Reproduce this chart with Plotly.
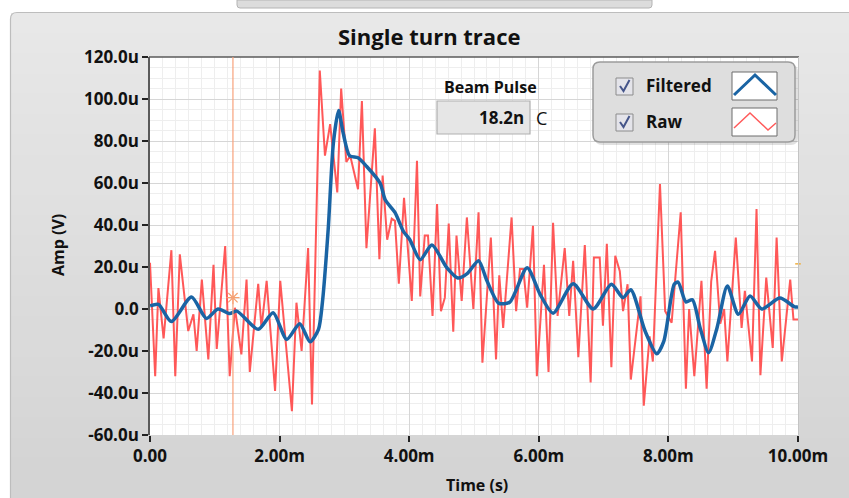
"""
plot.py
------------------------------------
Single turn trace (LabVIEW style waveform graph)
"""

import plotly.graph_objects as go

# ---- data (time in ms, amplitude in uV) ----
raw_t = [0.00, 0.08, 0.13, 0.21, 0.33, 0.39, 0.46, 0.59, 0.67, 0.72, 0.80, 0.90,
         0.98, 1.03, 1.16, 1.23, 1.31, 1.41, 1.49, 1.54, 1.67, 1.72, 1.80, 1.93,
         2.01, 2.19, 2.26, 2.34, 2.44, 2.50, 2.62, 2.70, 2.78, 2.89, 2.95, 3.03,
         3.09, 3.21, 3.27, 3.34, 3.47, 3.54, 3.59, 3.66, 3.73, 3.78, 3.84, 3.92,
         4.04, 4.12, 4.17, 4.24, 4.29, 4.36, 4.43, 4.49, 4.55, 4.61, 4.68, 4.73,
         4.81, 4.89, 4.99, 5.07, 5.13, 5.26, 5.34, 5.39, 5.45, 5.58, 5.65, 5.71,
         5.76, 5.82, 5.91, 5.97, 6.08, 6.15, 6.22, 6.29, 6.40, 6.47, 6.53, 6.61,
         6.71, 6.80, 6.85, 6.94, 6.99, 7.05, 7.12, 7.18, 7.25, 7.30, 7.37, 7.42,
         7.57, 7.62, 7.71, 7.76, 7.87, 7.95, 8.05, 8.19, 8.27, 8.32, 8.40, 8.51,
         8.59, 8.66, 8.72, 8.80, 8.86, 8.91, 9.04, 9.13, 9.18, 9.29, 9.36, 9.42,
         9.51, 9.61, 9.67, 9.75, 9.88, 9.93, 10.00]
raw_v = [22, -32, 10, -14, 28, -32, 26, -10.5, -2.5, -20, 14, -24,
         21, -19, 30, -32, 0.6, -21.6, 14, -30, 12, -9, 13.4, -39,
         13.4, -48.7, 3, -20, 29, -45.5, 113.6, 73, 88, 55.5, 105, 70,
         73, 57, 99, 29, 86, 23.7, 63.5, 33, 43, 42, 12, 53,
         3.8, 70.6, 6, 35, 35, -3.3, 50, -1, 5.4, 40.7, -10.8, 35,
         3.8, 43.6, 0, 46, -25.6, 34, -24, 16, -9, 43.6, -1, 19,
         19, 0.6, 39.6, -32, 21, -30, 41, -3.3, 29, -3.3, 23, -23,
         30.5, -35, 24.5, 24.5, -8, 31, -27.7, 25.3, 18, -1, 11.8, -33.6,
         6, -46, -13, -25, 59.5, -1, -6.5, 46, -38, 0, -32, 13.4,
         -38, 13, 27.7, -7, 0, -25, 34, -9, 8.6, -25, 47.6, -31.5,
         15, -18.5, 34, -25, 14, -5, -5]

filt_t = [0.00, 0.13, 0.33, 0.64, 0.87, 1.05, 1.23, 1.34, 1.67, 1.90, 2.11, 2.31,
          2.47, 2.60, 2.66, 2.75, 2.83, 2.91, 2.98, 3.08, 3.21, 3.34, 3.55, 3.63,
          3.78, 3.91, 4.01, 4.17, 4.35, 4.58, 4.75, 4.90, 5.07, 5.20, 5.38, 5.55,
          5.82, 6.02, 6.22, 6.53, 6.84, 7.12, 7.30, 7.42, 7.64, 7.82, 7.93, 8.09,
          8.15, 8.27, 8.37, 8.49, 8.62, 8.75, 8.91, 9.08, 9.26, 9.44, 9.72, 9.95,
          10.00]
filt_v = [1.5, 2.2, -6, 5.7, -4.5, 0, -2.2, -1, -9.7, -1.8, -14.5, -7,
          -15.6, -9.7, 3, 38, 79, 94.5, 84, 73, 72, 68, 60, 52,
          46, 37, 33, 23.5, 30.5, 19.7, 14.8, 17, 23, 13.4, 2.8, 3.2,
          19.7, 7, -2, 12, 0, 11.8, 5.4, 9.2, -10.5, -21.3, -15.3, 11.8,
          12.8, 3.4, 4.4, -9, -20.8, -9, 11, -2.5, 6.2, 0, 5.2, 1,
          1]

cursor_t = [1.28]
cursor_v = [5.4]
edge_t = [10.0]
edge_v = [21.5]

x_ticks = [0, 2, 4, 6, 8, 10]
x_labels = ["0.00", "2.00m", "4.00m", "6.00m", "8.00m", "10.00m"]
y_ticks = [-60, -40, -20, 0, 20, 40, 60, 80, 100, 120]
y_labels = ["-60.0u", "-40.0u", "-20.0u", "0.0", "20.0u", "40.0u",
            "60.0u", "80.0u", "100.0u", "120.0u"]

beam_pulse = "18.2n"

# ---- page geometry (pixels) ----
W, H = 849, 498
FONT = "Open Sans"


def X(px):
    return px / W


def Y(py):
    return 1 - py / H


def rounded(x0, y0, x1, y1, r):
    """SVG path for a rounded rectangle in paper coords (pixel input)."""
    a, b, c, d = X(x0), Y(y0), X(x1), Y(y1)
    rx, ry = r / W, r / H
    return (f"M {a + rx} {b} L {c - rx} {b} Q {c} {b} {c} {b - ry} "
            f"L {c} {d + ry} Q {c} {d} {c - rx} {d} L {a + rx} {d} "
            f"Q {a} {d} {a} {d + ry} L {a} {b - ry} Q {a} {b} {a + rx} {b} Z")


def label(text, px, py, font, xanchor="center", angle=0):
    return dict(text=text, x=X(px), y=Y(py), xref="paper", yref="paper",
                xanchor=xanchor, yanchor="middle", showarrow=False,
                textangle=angle, font=font)


fig = go.Figure()

fig.add_trace(go.Scatter(
    x=raw_t, y=raw_v, mode="lines", name="Raw",
    line=dict(color="rgba(255,70,70,0.9)", width=2),
    hoverinfo="skip"
))

fig.add_trace(go.Scatter(
    x=filt_t, y=filt_v, mode="lines", name="Filtered",
    line=dict(color="#1a64a4", width=3.5, shape="spline", smoothing=0.7),
    hoverinfo="skip"
))

# cursor point and its small handle on the right edge
fig.add_trace(go.Scatter(
    x=cursor_t, y=cursor_v, mode="markers",
    marker=dict(symbol="asterisk-open", size=11, color="#f5a070",
                line=dict(color="#f5a070", width=1.2)),
    hoverinfo="skip"
))
fig.add_trace(go.Scatter(
    x=edge_t, y=edge_v, mode="markers", cliponaxis=False,
    marker=dict(symbol="line-ew-open", size=4, color="#f0b040",
                line=dict(color="#f0b040", width=1.5)),
    hoverinfo="skip"
))

shapes = []

# panel with a soft vertical gradient (everything kept inside the page)
n_bands = 24
top, bottom = 13, H
for i in range(n_bands):
    y0 = top + (bottom - top) * i / n_bands
    y1 = min(top + (bottom - top) * (i + 1) / n_bands + 1, H)
    g = int(232 - (232 - 212) * i / (n_bands - 1))
    shapes.append(dict(type="rect", xref="paper", yref="paper",
                       x0=X(11), x1=1, y0=Y(y1), y1=Y(y0),
                       fillcolor=f"rgb({g},{g},{g})", line_width=0,
                       layer="below"))
# panel border (left + top with a rounded corner)
shapes.append(dict(type="path", xref="paper", yref="paper",
                   path=(f"M {X(10.5)} {Y(H)} L {X(10.5)} {Y(19)} "
                         f"Q {X(10.5)} {Y(12.5)} {X(17)} {Y(12.5)} L 1 {Y(12.5)}"),
                   line=dict(color="#bdbdbd", width=1.2), layer="below"))

# tab of the window above
shapes.append(dict(type="path", xref="paper", yref="paper",
                   path=(f"M {X(237)} 1 L {X(237)} {Y(5)} Q {X(237)} {Y(8)} "
                         f"{X(240)} {Y(8)} L {X(649)} {Y(8)} Q {X(652)} {Y(8)} "
                         f"{X(652)} {Y(5)} L {X(652)} 1 Z"),
                   fillcolor="#dcdcdc", line=dict(color="#b4b4b4", width=1),
                   layer="below"))

# white plot area
shapes.append(dict(type="rect", xref="paper", yref="paper",
                   x0=X(150), x1=X(798), y0=Y(435), y1=Y(57),
                   fillcolor="white", line_width=0, layer="below"))

# plot frame: dark top, light right
shapes.append(dict(type="line", xref="paper", yref="paper",
                   x0=X(149), x1=X(799), y0=Y(57), y1=Y(57),
                   line=dict(color="#5a5a5a", width=1.5)))
shapes.append(dict(type="line", xref="paper", yref="paper",
                   x0=X(798.5), x1=X(798.5), y0=Y(435), y1=Y(57),
                   line=dict(color="#c4c4c4", width=1)))

# cursor line
shapes.append(dict(type="line", xref="x", yref="paper",
                   x0=cursor_t[0], x1=cursor_t[0], y0=Y(435), y1=Y(57),
                   line=dict(color="#f7a27c", width=1.2)))

# Beam Pulse indicator box
shapes.append(dict(type="rect", xref="paper", yref="paper",
                   x0=X(437), x1=X(530), y0=Y(134), y1=Y(101),
                   fillcolor="#e6e6e6", line=dict(color="#b0b0b0", width=1.2)))

# legend box with shadow
shapes.append(dict(type="path", xref="paper", yref="paper",
                   path=rounded(595, 65, 798, 145, 7),
                   fillcolor="rgba(0,0,0,0.12)", line_width=0))
shapes.append(dict(type="path", xref="paper", yref="paper",
                   path=rounded(593, 62, 795, 142, 7),
                   fillcolor="#dedede", line=dict(color="#9c9c9c", width=1.5)))
for cy in (86, 122):
    shapes.append(dict(type="rect", xref="paper", yref="paper",
                       x0=X(616), x1=X(633), y0=Y(cy + 9), y1=Y(cy - 8),
                       fillcolor="#e4e4ea", line=dict(color="#8c8c8c", width=1)))
    shapes.append(dict(type="path", xref="paper", yref="paper",
                       path=(f"M {X(620)} {Y(cy)} L {X(623.5)} {Y(cy + 5)} "
                             f"L {X(629.5)} {Y(cy - 6)}"),
                       line=dict(color="#45558a", width=2)))
    shapes.append(dict(type="rect", xref="paper", yref="paper",
                       x0=X(732), x1=X(777), y0=Y(cy + 14), y1=Y(cy - 14),
                       fillcolor="white", line=dict(color="#6c6c6c", width=1)))
# legend glyphs
shapes.append(dict(type="path", xref="paper", yref="paper",
                   path=f"M {X(734)} {Y(95)} L {X(755)} {Y(75)} L {X(776)} {Y(95)}",
                   line=dict(color="#1a64a4", width=3)))
shapes.append(dict(type="path", xref="paper", yref="paper",
                   path=(f"M {X(734)} {Y(128)} L {X(750)} {Y(113)} "
                         f"L {X(768)} {Y(130)} L {X(776)} {Y(123)}"),
                   line=dict(color="#ff5a5a", width=1.5)))

bold = dict(family=FONT, size=17, color="#111111", weight="bold")

annotations = [
    label("Single turn trace", 429, 36,
          dict(family=FONT, size=22, color="#111111", weight="bold")),
    label("Amp (V)", 58, 245, dict(bold, size=16), angle=-90),
    label("Time (s)", 477, 485, dict(bold, size=16)),
    label("Beam Pulse", 490, 87, dict(bold, size=16)),
    label(beam_pulse, 526, 117, dict(bold, size=17), xanchor="right"),
    label("C", 534, 118, dict(family=FONT, size=18, color="#111111"),
          xanchor="left"),
    label("Filtered", 644, 85, bold, xanchor="left"),
    label("Raw", 644, 122, bold, xanchor="left"),
]

fig.update_layout(
    width=W, height=H,
    autosize=False,
    margin=dict(l=0, r=0, t=0, b=0, pad=0, autoexpand=False),
    paper_bgcolor="white",
    plot_bgcolor="white",
    showlegend=False,
    shapes=shapes,
    annotations=annotations,
    xaxis=dict(
        domain=[X(150), X(798)], range=[0, 10], automargin=False,
        tickvals=x_ticks, ticktext=x_labels,
        ticks="outside", ticklen=6, tickcolor="#222222", tickwidth=1.5,
        tickfont=dict(family=FONT, size=17, color="#111111", weight="bold"),
        showgrid=True, gridcolor="#d6d6d6", gridwidth=1,
        minor=dict(dtick=0.2, showgrid=True, gridcolor="#eeeeee", gridwidth=1),
        showline=False, zeroline=False, fixedrange=True
    ),
    yaxis=dict(
        domain=[Y(435), Y(57)], range=[-60, 120], automargin=False,
        tickvals=y_ticks, ticktext=y_labels,
        ticks="outside", ticklen=6, tickcolor="#222222", tickwidth=1.5,
        tickfont=dict(family=FONT, size=17, color="#111111", weight="bold"),
        showgrid=True, gridcolor="#d6d6d6", gridwidth=1,
        minor=dict(dtick=5, showgrid=True, gridcolor="#eeeeee", gridwidth=1),
        showline=True, linecolor="#5a5a5a", linewidth=1.5,
        zeroline=False, fixedrange=True
    ),
)

# drop the default page margin so the figure sits at the window origin
fig.write_html("out.html", config={"displayModeBar": False},
               post_script="document.body.style.margin = '0';")
